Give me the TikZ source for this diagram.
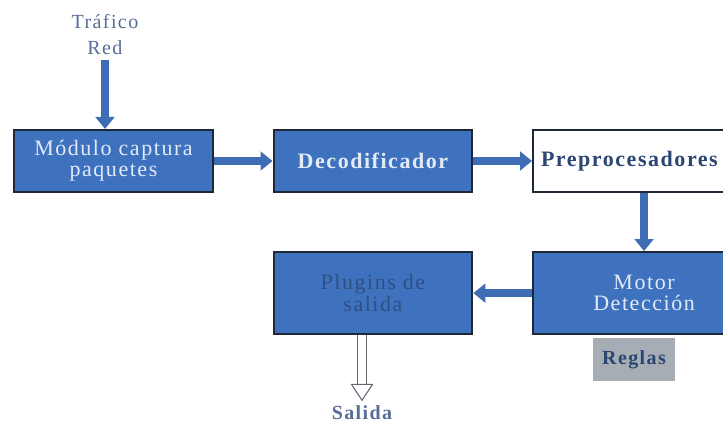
\documentclass[tikz,border=0pt]{standalone}
\usepackage{fontspec}
\setmainfont{Liberation Serif}[LetterSpace=7]
\usetikzlibrary{positioning,arrows.meta}
\definecolor{boxblue}{HTML}{3E72BF}
\definecolor{boxline}{HTML}{1E2836}
\definecolor{boxtext}{HTML}{E2EAF6}
\definecolor{darktext}{HTML}{2C4673}
\definecolor{labeltext}{HTML}{566D96}
\definecolor{arrowblue}{HTML}{3F6DB5}
\definecolor{rulegray}{HTML}{A7ADB5}
\begin{document}
\begin{tikzpicture}[
    node distance=43.5pt and 44pt,
    box/.style={rectangle, draw=boxline, line width=1.6pt, fill=boxblue, minimum width=149pt, minimum height=46.5pt, align=center, text=boxtext, font=\fontsize{16.5}{16}\selectfont},
    label/.style={align=center, text=labeltext, font=\fontsize{15}{20}\selectfont},
    arrow/.style={-{Triangle[length=9pt,width=14pt]}, line width=6pt, draw=arrowblue},
    hollow/.style={-{Triangle[open,length=13pt,width=17pt]}, double=white, double distance=6pt, line width=0.8pt, draw=boxline!70}
]
    \clip (0,0) rectangle (542.25pt,-317.25pt);

    % Input
    \node[label] (traffic) at (78.75pt,-26pt) {Tráfico\\Red};

    % Top row
    \node[box] (capture) at (85.1pt,-120.75pt) {Módulo captura\\paquetes};
    \node[box, right=of capture] (decoder) {\bfseries Decodificador};
    \node[box, right=of decoder, fill=white, minimum width=166.5pt, text=darktext] (preproc) {\bfseries Preprocesadores\hspace*{22pt}};

    % Bottom row
    \node[box, below=of preproc, minimum width=166.5pt, minimum height=61.5pt] (motor) {Motor\\Detección};
    \node[box, left=of motor, minimum height=61.5pt, text=darktext!80!boxblue] (plugins) {Plugins de\\salida};
    \node[fill=rulegray, minimum width=61.5pt, minimum height=32pt, text=darktext, font=\fontsize{15}{18}\selectfont\bfseries, below=2pt of motor, xshift=-7.5pt] (rules) {Reglas};

    % Output
    \node[label, font=\fontsize{15}{18}\selectfont\bfseries] (output) at (271.5pt,-309.75pt) {Salida};

    % Arrows
    \draw[arrow] (traffic) -- (traffic |- capture.north);
    \draw[arrow] (capture) -- (decoder);
    \draw[arrow] (decoder) -- (preproc);
    \draw[arrow] (preproc) -- (motor);
    \draw[arrow] (motor) -- (plugins);
    \draw[hollow] (output |- plugins.south) -- (output);

\end{tikzpicture}
\end{document}
